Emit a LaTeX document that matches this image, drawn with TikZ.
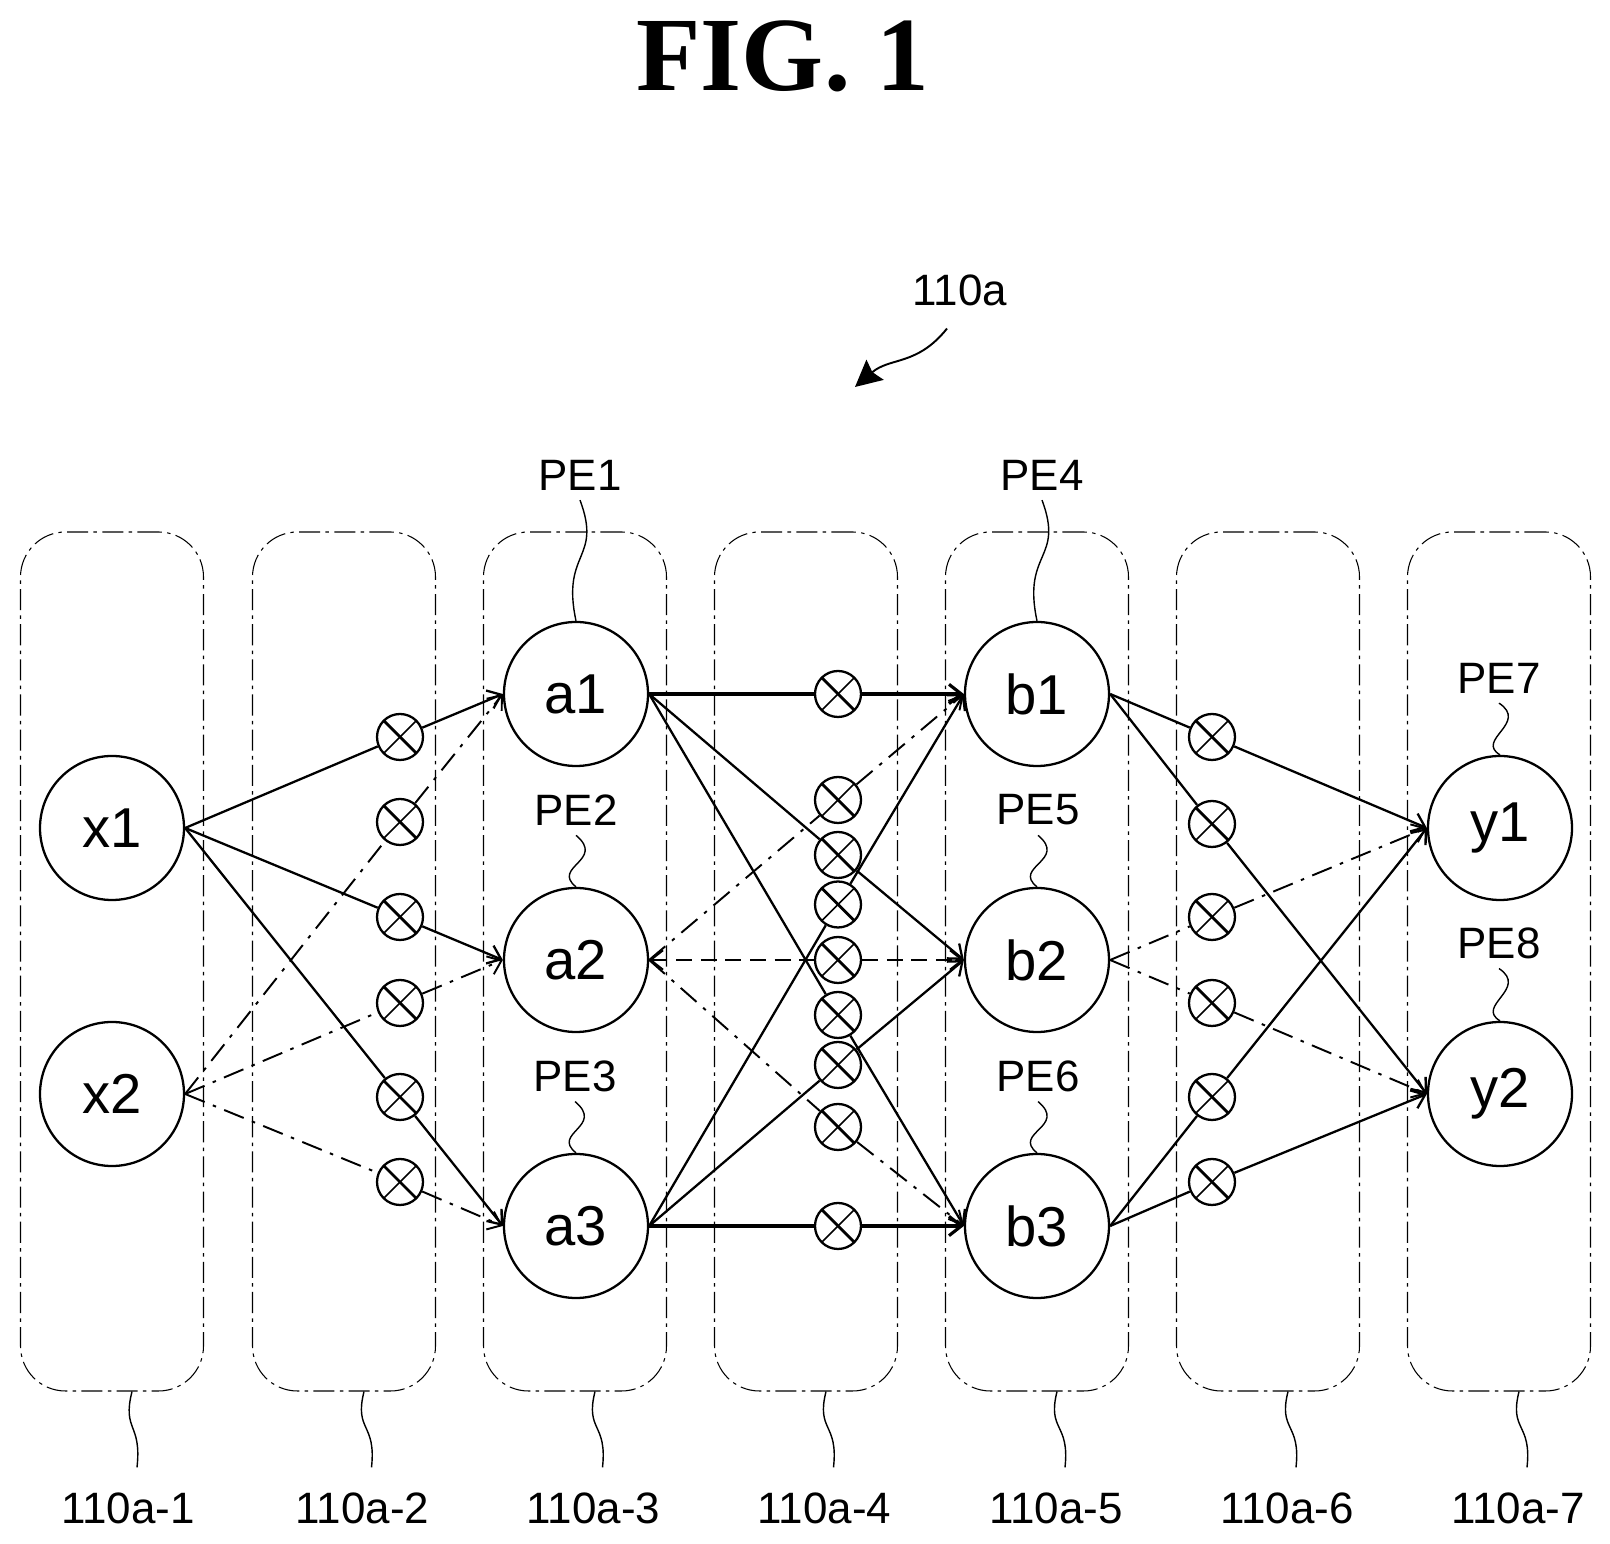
\documentclass[tikz,border=0pt]{standalone}
\usepackage{fontspec}
\setmainfont{Liberation Sans}
\newfontfamily\titlefont{Liberation Serif}
\usetikzlibrary{arrows.meta}

\begin{document}
\begin{tikzpicture}[
    >={Straight Barb[length=7pt,width=11pt]},
    stage/.style={rectangle, draw, line width=0.6pt, dash pattern=on 12pt off 3pt on 2pt off 3pt, rounded corners=0.9cm, minimum width=3.66cm, minimum height=17.18cm},
    pe/.style={circle, draw, line width=1.3pt, minimum size=2.88cm, inner sep=0pt, font=\fontsize{32}{36}\selectfont},
    mul/.style={circle, draw, line width=1.3pt, minimum size=0.92cm, inner sep=0pt,
        path picture={
            \draw[line width=1.6pt] (path picture bounding box.north west) -- (path picture bounding box.south east);
            \draw[line width=0.9pt] (path picture bounding box.south west) -- (path picture bounding box.north east);
        }},
    tag/.style={inner sep=0pt, outer sep=0.2cm, font=\fontsize{25}{29}\selectfont},
    lead/.style={line width=0.8pt},
    wire/.style={line width=1.3pt},
    arrow/.style={wire, ->},
    dashwire/.style={line width=1.1pt, dash pattern=on 12pt off 5pt on 2pt off 5pt},
    dasharrow/.style={dashwire, ->}
]
\useasboundingbox (0,0) rectangle (32.2,30.88);

% Title
\node (title) at (15.66,29.76) {\titlefont\bfseries\fontsize{60}{66}\selectfont FIG. 1};

% Reference arrow
\node[tag] (ref) at (19.20,25.08) {110a};
\coordinate (reftip) at (17.10,23.14);
\draw[lead, line width=1.1pt, -{Stealth[length=15pt,width=15pt,inset=2pt]}] ([xshift=-0.26cm,yshift=-0.26cm]ref.south) .. controls +(-0.6,-0.75) and +(0.7,0.6) .. (reftip);

% Stages
\node[stage] (stage1) at (2.24,11.65) {};
\node[stage] (stage2) at (6.88,11.65) {};
\node[stage] (stage3) at (11.50,11.65) {};
\node[stage] (stage4) at (16.12,11.65) {};
\node[stage] (stage5) at (20.74,11.65) {};
\node[stage] (stage6) at (25.36,11.65) {};
\node[stage] (stage7) at (29.98,11.65) {};

% Stage labels
\node[tag] (label1) at (2.56,0.72) {110a-1};
\node[tag] (label2) at (7.25,0.72) {110a-2};
\node[tag] (label3) at (11.87,0.72) {110a-3};
\node[tag] (label4) at (16.49,0.72) {110a-4};
\node[tag] (label5) at (21.12,0.72) {110a-5};
\node[tag] (label6) at (25.74,0.72) {110a-6};
\node[tag] (label7) at (30.36,0.72) {110a-7};

% Stage leaders
\draw[lead] ([xshift=0.40cm]stage1.south) .. controls +(-0.2,-0.8) and +(0.1,0.9) .. ([xshift=0.18cm,yshift=0.3cm]label1.north);
\draw[lead] ([xshift=0.40cm]stage2.south) .. controls +(-0.2,-0.8) and +(0.1,0.9) .. ([xshift=0.18cm,yshift=0.3cm]label2.north);
\draw[lead] ([xshift=0.40cm]stage3.south) .. controls +(-0.2,-0.8) and +(0.1,0.9) .. ([xshift=0.18cm,yshift=0.3cm]label3.north);
\draw[lead] ([xshift=0.40cm]stage4.south) .. controls +(-0.2,-0.8) and +(0.1,0.9) .. ([xshift=0.18cm,yshift=0.3cm]label4.north);
\draw[lead] ([xshift=0.40cm]stage5.south) .. controls +(-0.2,-0.8) and +(0.1,0.9) .. ([xshift=0.18cm,yshift=0.3cm]label5.north);
\draw[lead] ([xshift=0.40cm]stage6.south) .. controls +(-0.2,-0.8) and +(0.1,0.9) .. ([xshift=0.18cm,yshift=0.3cm]label6.north);
\draw[lead] ([xshift=0.40cm]stage7.south) .. controls +(-0.2,-0.8) and +(0.1,0.9) .. ([xshift=0.18cm,yshift=0.3cm]label7.north);

% Processing elements
\node[pe] (x1) at (2.24,14.32) {x1};
\node[pe] (x2) at (2.24,9.00) {x2};
\node[pe] (a1) at (11.52,17.00) {a1};
\node[pe] (a2) at (11.52,11.68) {a2};
\node[pe] (a3) at (11.52,6.36) {a3};
\node[pe] (b1) at (20.74,17.00) {b1};
\node[pe] (b2) at (20.74,11.68) {b2};
\node[pe] (b3) at (20.74,6.36) {b3};
\node[pe] (y1) at (30.00,14.32) {y1};
\node[pe] (y2) at (30.00,9.00) {y2};

% PE labels
\node[tag] (pe1) at (11.60,21.38) {PE1};
\node[tag] (pe2) at (11.52,14.68) {PE2};
\node[tag] (pe3) at (11.50,9.36) {PE3};
\node[tag] (pe4) at (20.84,21.38) {PE4};
\node[tag] (pe5) at (20.76,14.68) {PE5};
\node[tag] (pe6) at (20.76,9.36) {PE6};
\node[tag] (pe7) at (29.98,17.32) {PE7};
\node[tag] (pe8) at (29.98,12.02) {PE8};

% PE leaders
\draw[lead] (pe1.south) .. controls +(0.45,-1.2) and +(-0.3,1.4) .. (a1.north);
\draw[lead] (pe2.south) .. controls +(0.6,-0.5) and +(-0.5,0.4) .. (a2.north);
\draw[lead] (pe3.south) .. controls +(0.6,-0.5) and +(-0.5,0.4) .. (a3.north);
\draw[lead] (pe4.south) .. controls +(0.45,-1.2) and +(-0.3,1.4) .. (b1.north);
\draw[lead] (pe5.south) .. controls +(0.6,-0.5) and +(-0.5,0.4) .. (b2.north);
\draw[lead] (pe6.south) .. controls +(0.6,-0.5) and +(-0.5,0.4) .. (b3.north);
\draw[lead] (pe7.south) .. controls +(0.6,-0.4) and +(-0.5,0.3) .. (y1.north);
\draw[lead] (pe8.south) .. controls +(0.6,-0.4) and +(-0.5,0.3) .. (y2.north);

% Multipliers, second stage
\node[mul] (x1a1) at (8.00,16.14) {};
\node[mul] (x2a1) at (8.00,14.44) {};
\node[mul] (x1a2) at (8.00,12.54) {};
\node[mul] (x2a2) at (8.00,10.82) {};
\node[mul] (x1a3) at (8.00,8.94) {};
\node[mul] (x2a3) at (8.00,7.24) {};

% Multipliers, fourth stage
\node[mul] (a1b1) at (16.76,17.00) {};
\node[mul] (a2b1) at (16.76,14.88) {};
\node[mul] (a1b2) at (16.76,13.78) {};
\node[mul] (a3b1) at (16.76,12.79) {};
\node[mul] (a2b2) at (16.76,11.68) {};
\node[mul] (a1b3) at (16.76,10.58) {};
\node[mul] (a3b2) at (16.76,9.58) {};
\node[mul] (a2b3) at (16.76,8.34) {};
\node[mul] (a3b3) at (16.76,6.36) {};

% Multipliers, sixth stage
\node[mul] (b1y1) at (24.24,16.14) {};
\node[mul] (b1y2) at (24.24,14.40) {};
\node[mul] (b2y1) at (24.24,12.54) {};
\node[mul] (b2y2) at (24.24,10.82) {};
\node[mul] (b3y1) at (24.24,8.94) {};
\node[mul] (b3y2) at (24.24,7.24) {};

% Arrows from x to a
\draw[wire] (x1.east) -- (x1a1);
\draw[arrow] (x1a1) -- (a1.west);
\draw[wire] (x1.east) -- (x1a2);
\draw[arrow] (x1a2) -- (a2.west);
\draw[wire] (x1.east) -- (x1a3);
\draw[arrow] (x1a3) -- (a3.west);
\draw[dashwire] (x2.east) -- (x2a1);
\draw[dasharrow] (x2a1) -- (a1.west);
\draw[dashwire] (x2.east) -- (x2a2);
\draw[dasharrow] (x2a2) -- (a2.west);
\draw[dashwire] (x2.east) -- (x2a3);
\draw[dasharrow] (x2a3) -- (a3.west);

% Arrows from a to b
\draw[wire, line width=1.8pt] (a1.east) -- (a1b1);
\draw[arrow, line width=1.8pt] (a1b1) -- (b1.west);
\draw[wire] (a1.east) -- (a1b2);
\draw[arrow] (a1b2) -- (b2.west);
\draw[wire] (a1.east) -- (a1b3);
\draw[arrow] (a1b3) -- (b3.west);
\draw[dashwire] (a2.east) -- (a2b1);
\draw[dasharrow] (a2b1) -- (b1.west);
\draw[dasharrow, <-, dash pattern=on 9pt off 5pt] (a2.east) -- (a2b2);
\draw[dasharrow, dash pattern=on 9pt off 5pt] (a2b2) -- (b2.west);
\draw[dashwire] (a2.east) -- (a2b3);
\draw[dasharrow] (a2b3) -- (b3.west);
\draw[wire] (a3.east) -- (a3b1);
\draw[arrow] (a3b1) -- (b1.west);
\draw[wire] (a3.east) -- (a3b2);
\draw[arrow] (a3b2) -- (b2.west);
\draw[wire, line width=1.8pt] (a3.east) -- (a3b3);
\draw[arrow, line width=1.8pt] (a3b3) -- (b3.west);

% Arrows from b to y
\draw[wire] (b1.east) -- (b1y1);
\draw[arrow] (b1y1) -- (y1.west);
\draw[wire] (b1.east) -- (b1y2);
\draw[arrow] (b1y2) -- (y2.west);
\draw[dashwire] (b2.east) -- (b2y1);
\draw[dasharrow] (b2y1) -- (y1.west);
\draw[dashwire] (b2.east) -- (b2y2);
\draw[dasharrow] (b2y2) -- (y2.west);
\draw[wire] (b3.east) -- (b3y1);
\draw[arrow] (b3y1) -- (y1.west);
\draw[wire] (b3.east) -- (b3y2);
\draw[arrow] (b3y2) -- (y2.west);

\end{tikzpicture}
\end{document}
